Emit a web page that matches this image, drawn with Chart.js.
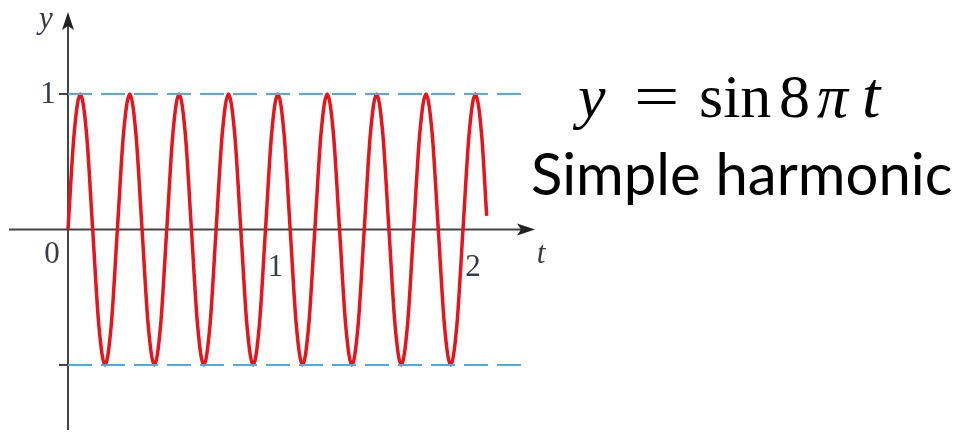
<!DOCTYPE html>
<html>
<head>
<meta charset="utf-8">
<script src="https://cdn.jsdelivr.net/npm/chart.js@4.4.1/dist/chart.umd.min.js"></script>
<style>
    html, body { margin: 0; padding: 0; background: #fff; overflow: hidden; }
    #wrap { position: relative; width: 968px; height: 434px; }
    #plot { position: absolute; left: 0; top: 0; }
    .formula span {
        position: absolute; top: 65px;
        font-family: "Liberation Serif", serif; font-size: 62px; line-height: 1; color: #000;
        white-space: nowrap;
    }
    .caption {
        position: absolute; left: 531px; top: 144px;
        font-family: Lato, "Open Sans", sans-serif; font-size: 58px; line-height: 1; color: #000;
        white-space: nowrap;
    }
</style>
</head>
<body>
<div id="wrap">
    <canvas id="plot" width="968" height="434"></canvas>
    <div class="formula">
        <span style="left:578px"><i>y</i></span>
        <span style="left:634px; transform: scaleX(1.3); transform-origin: left;">=</span>
        <span style="left:699px">sin</span>
        <span style="left:779px">8</span>
        <span style="left:817px"><i>π</i></span>
        <span style="left:862px; font-size: 66px; top: 62px;"><i>t</i></span>
    </div>
    <div class="caption">Simple harmonic</div>
</div>
<script>
// Curve y = sin 8πt, points every 1/8 period
const tValues = [
    0, 0.03125, 0.0625, 0.09375, 0.125, 0.15625, 0.1875, 0.21875,
    0.25, 0.28125, 0.3125, 0.34375, 0.375, 0.40625, 0.4375, 0.46875,
    0.5, 0.53125, 0.5625, 0.59375, 0.625, 0.65625, 0.6875, 0.71875,
    0.75, 0.78125, 0.8125, 0.84375, 0.875, 0.90625, 0.9375, 0.96875,
    1, 1.03125, 1.0625, 1.09375, 1.125, 1.15625, 1.1875, 1.21875,
    1.25, 1.28125, 1.3125, 1.34375, 1.375, 1.40625, 1.4375, 1.46875,
    1.5, 1.53125, 1.5625, 1.59375, 1.625, 1.65625, 1.6875, 1.71875,
    1.75, 1.78125, 1.8125, 1.84375, 1.875, 1.90625, 1.9375, 1.96875,
    2, 2.03125, 2.0625, 2.09375, 2.12
];
const yValues = [
    0, 0.71, 1, 0.71, 0, -0.71, -1, -0.71,
    0, 0.71, 1, 0.71, 0, -0.71, -1, -0.71,
    0, 0.71, 1, 0.71, 0, -0.71, -1, -0.71,
    0, 0.71, 1, 0.71, 0, -0.71, -1, -0.71,
    0, 0.71, 1, 0.71, 0, -0.71, -1, -0.71,
    0, 0.71, 1, 0.71, 0, -0.71, -1, -0.71,
    0, 0.71, 1, 0.71, 0, -0.71, -1, -0.71,
    0, 0.71, 1, 0.71, 0, -0.71, -1, -0.71,
    0, 0.71, 1, 0.71, 0.1
];

// Dashed guide lines at y = 1 and y = -1
const guideT = [0, 2.3];
const upperGuide = [1, 1];
const lowerGuide = [-1, -1];

// Axis labels
const xTickValues = [1, 2];
const xTickLabels = ['1', '2'];
const yTickValues = [1, -1];
const yTickLabels = ['1', ''];

const toPoints = (xs, ys) => xs.map((x, i) => ({ x: x, y: ys[i] }));

// Draws the crossing axes, arrows and labels from the scales
const axesPlugin = {
    id: 'axes',
    beforeDatasetsDraw(chart) {
        const ctx = chart.ctx;
        const xs = chart.scales.x;
        const ys = chart.scales.y;
        const area = chart.chartArea;
        const x0 = xs.getPixelForValue(0);
        const y0 = ys.getPixelForValue(0);

        ctx.save();
        ctx.strokeStyle = '#444';
        ctx.fillStyle = '#222';
        ctx.lineWidth = 2;

        // x axis
        ctx.beginPath();
        ctx.moveTo(area.left, y0);
        ctx.lineTo(area.right - 14, y0);
        ctx.stroke();
        ctx.beginPath();
        ctx.moveTo(area.right, y0);
        ctx.lineTo(area.right - 18, y0 - 6);
        ctx.lineTo(area.right - 14, y0);
        ctx.lineTo(area.right - 18, y0 + 6);
        ctx.closePath();
        ctx.fill();

        // y axis
        ctx.beginPath();
        ctx.moveTo(x0, area.bottom);
        ctx.lineTo(x0, area.top + 14);
        ctx.stroke();
        ctx.beginPath();
        ctx.moveTo(x0, area.top);
        ctx.lineTo(x0 - 6, area.top + 18);
        ctx.lineTo(x0, area.top + 14);
        ctx.lineTo(x0 + 6, area.top + 18);
        ctx.closePath();
        ctx.fill();

        // y ticks
        yTickValues.forEach(v => {
            const py = ys.getPixelForValue(v);
            ctx.beginPath();
            ctx.moveTo(x0 - 9, py);
            ctx.lineTo(x0, py);
            ctx.stroke();
        });

        ctx.fillStyle = '#363b47';
        ctx.font = '31px "Liberation Serif", serif';
        ctx.textAlign = 'center';
        ctx.textBaseline = 'middle';
        yTickValues.forEach((v, i) => {
            ctx.fillText(yTickLabels[i], x0 - 20, ys.getPixelForValue(v) + 1);
        });
        xTickValues.forEach((v, i) => {
            ctx.fillText(xTickLabels[i], xs.getPixelForValue(v) + 10, y0 + 38);
        });
        ctx.fillText('0', x0 - 16, y0 + 25);

        ctx.font = 'italic 31px "Liberation Serif", serif';
        ctx.fillText('y', x0 - 22, area.top + 8);
        ctx.fillText('t', area.right + 6, y0 + 25);
        ctx.restore();
    }
};

const chart = new Chart(document.getElementById('plot').getContext('2d'), {
    type: 'scatter',
    data: {
        datasets: [
            {
                data: toPoints(guideT, upperGuide),
                showLine: true,
                borderColor: '#4aaee0',
                borderWidth: 2,
                borderDash: [24, 9],
                pointRadius: 0
            },
            {
                data: toPoints(guideT, lowerGuide),
                showLine: true,
                borderColor: '#4aaee0',
                borderWidth: 2,
                borderDash: [24, 9],
                pointRadius: 0
            },
            {
                data: toPoints(tValues, yValues),
                showLine: true,
                borderColor: '#e8141c',
                borderWidth: 3.5,
                cubicInterpolationMode: 'monotone',
                pointRadius: 0
            }
        ]
    },
    options: {
        responsive: false,
        animation: false,
        layout: {
            padding: { left: 9, right: 433, top: 12, bottom: 4 }
        },
        plugins: {
            legend: { display: false },
            tooltip: { enabled: false }
        },
        scales: {
            x: { type: 'linear', display: false, min: -0.2987, max: 2.3646 },
            y: { type: 'linear', display: false, min: -1.48, max: 1.605 }
        }
    },
    plugins: [axesPlugin]
});
</script>
</body>
</html>
